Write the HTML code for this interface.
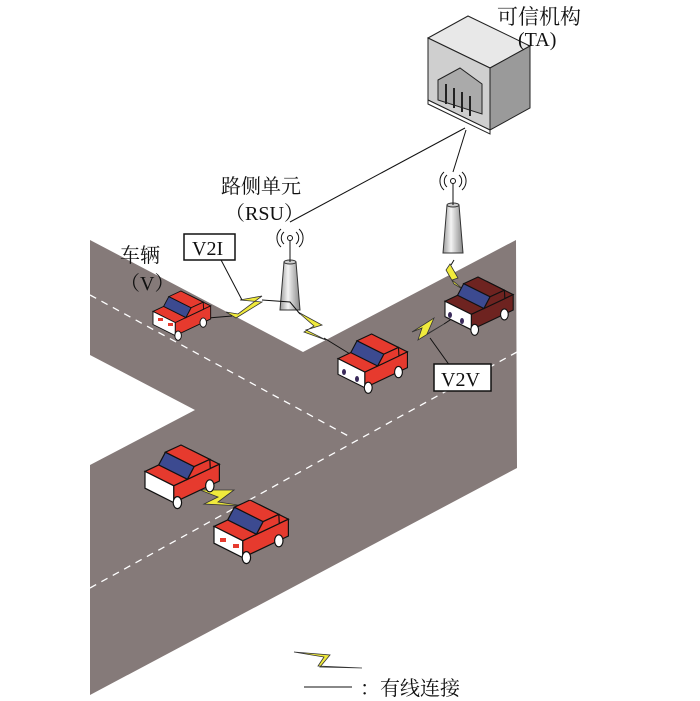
<!DOCTYPE html>
<html><head><meta charset="utf-8"><style>
body{margin:0;background:#fff;}
svg{display:block;}
text{font-family:"Liberation Serif","Noto Serif CJK SC",serif;fill:#111;}
</style></head><body>
<svg width="700" height="701" viewBox="0 0 700 701" xmlns="http://www.w3.org/2000/svg">
<defs>
<linearGradient id="tw" x1="0" x2="1"><stop offset="0" stop-color="#999"/><stop offset="0.4" stop-color="#f4f4f4"/><stop offset="1" stop-color="#888"/></linearGradient>
<g id="car">
 <polygon points="0,22 38,4 62,16 24,34" fill="#e63a2e" stroke="#111"/>
 <polygon points="0,22 24,34 24,48 0,36" fill="#fff" stroke="#111"/>
 <polygon points="24,34 62,16 62,30 24,48" fill="#e63a2e" stroke="#111"/>
 <polygon points="11.4,16.6 35.4,28.6 41,18 17,6" fill="#3c4a90" stroke="#111"/>
 <polygon points="17,6 41,18 54,12 30,0" fill="#e63a2e" stroke="#111"/>
 <polygon points="35.4,28.6 54.4,19.6 54,12 41,18" fill="#e63a2e" stroke="#111"/>
 <ellipse cx="27" cy="48" rx="3.5" ry="5" fill="#fff" stroke="#111"/>
 <ellipse cx="54" cy="34" rx="3.5" ry="5" fill="#fff" stroke="#111"/>
</g>
<g id="tower">
 <polygon points="-6,0 6,0 10,48 -10,48" fill="url(#tw)" stroke="#333"/>
 <ellipse cx="0" cy="0" rx="6" ry="2" fill="#ccc" stroke="#333"/>
 <line x1="0" y1="0" x2="0" y2="-22" stroke="#111"/>
 <circle cx="0" cy="-24" r="2.5" fill="none" stroke="#111"/>
 <path d="M-6,-30 a8,8 0 0 0 0,12 M6,-30 a8,8 0 0 1 0,12 M-9,-33 a12,12 0 0 0 0,18 M9,-33 a12,12 0 0 1 0,18" fill="none" stroke="#111"/>
</g>
</defs>
<polygon points="90,240 303,352 516,240 517,468 90,695 90,465 195,410 90,355" fill="#857a79"/>
<g stroke="#fff" stroke-width="1.3" stroke-dasharray="7,6" fill="none">
<line x1="90" y1="295" x2="352" y2="438"/>
<line x1="90" y1="588" x2="517" y2="352"/>
</g>
<line x1="290" y1="222" x2="465" y2="128" stroke="#111"/>
<line x1="453" y1="172" x2="466" y2="130" stroke="#111"/>
<g stroke="#222">
<polygon points="428,38 468,16 530,46 490,68" fill="#e8e8e8"/>
<polygon points="428,38 490,68 490,130 428,100" fill="#cfcfcf"/>
<polygon points="490,68 530,46 530,108 490,130" fill="#9a9a9a"/>
<polygon points="438,80 460,68 482,84 482,114 438,100" fill="#aaa"/>
<g stroke-width="2"><line x1="446" y1="84" x2="446" y2="104"/><line x1="454" y1="88" x2="454" y2="108"/><line x1="462" y1="92" x2="462" y2="112"/><line x1="470" y1="96" x2="470" y2="116"/></g>
<polygon points="428,100 490,130 490,134 428,104" fill="#fff"/>
</g>
<use href="#tower" x="290" y="262"/>
<use href="#tower" x="453" y="205"/>
<g fill="#f0ea3c" stroke="#333" stroke-width="0.8">
<polygon points="236,318 262,302 240,300 262,296 238,314 226,312"/>
<polygon points="298,312 322,325 306,330 326,340 304,332 314,326"/>
<polygon points="450,264 458,278 452,280 464,290 454,284 446,270"/>
<polygon points="412,332 434,318 427,334 444,324 418,340 422,328"/>
<polygon points="200,490 234,490 218,502 244,506 204,504 218,497"/>
</g>
<g stroke="#111" fill="none">
<polyline points="208,318 232,316"/><polyline points="262,300 290,302 300,314"/>
<polyline points="324,338 350,354"/><polyline points="444,324 462,312"/>
<line x1="454" y1="260" x2="451" y2="265"/><line x1="462" y1="287" x2="463" y2="295"/>
<line x1="190" y1="488" x2="201" y2="490"/><line x1="244" y1="506" x2="252" y2="508"/>
<line x1="220" y1="258" x2="242" y2="300"/><line x1="430" y1="338" x2="450" y2="366"/>
</g>
<use href="#car" transform="translate(153,291) scale(0.93)"/>
<use href="#car" transform="translate(338,334) scale(1.12)"/>
<g transform="translate(445,277) scale(1.1)">
 <polygon points="0,22 38,4 62,16 24,34" fill="#6e2320" stroke="#111"/>
 <polygon points="0,22 24,34 24,48 0,36" fill="#fff" stroke="#111"/>
 <polygon points="24,34 62,16 62,30 24,48" fill="#6e2320" stroke="#111"/>
 <polygon points="11.4,16.6 35.4,28.6 41,18 17,6" fill="#3c4a90" stroke="#111"/>
 <polygon points="17,6 41,18 54,12 30,0" fill="#6e2320" stroke="#111"/>
 <polygon points="35.4,28.6 54.4,19.6 54,12 41,18" fill="#6e2320" stroke="#111"/>
 <ellipse cx="27" cy="48" rx="3.5" ry="5" fill="#fff" stroke="#111"/>
 <ellipse cx="54" cy="34" rx="3.5" ry="5" fill="#fff" stroke="#111"/>
</g>
<use href="#car" transform="translate(145,445) scale(1.2)"/>
<use href="#car" transform="translate(214,500) scale(1.2)"/>
<g fill="#e63a2e"><rect x="158" y="318" width="5" height="3"/><rect x="168" y="323" width="5" height="3"/><rect x="220" y="538" width="6" height="4"/><rect x="233" y="544" width="6" height="4"/></g>
<g fill="#3a2a5a"><ellipse cx="344" cy="372" rx="2" ry="3"/><ellipse cx="357" cy="379" rx="2" ry="3"/><ellipse cx="450" cy="315" rx="2" ry="3"/><ellipse cx="462" cy="321" rx="2" ry="3"/></g>
<rect x="184" y="234" width="51" height="26" fill="#fff" stroke="#111" stroke-width="1.5"/>
<text x="192" y="255" font-size="20">V2I</text>
<rect x="434" y="364" width="57" height="27" fill="#fff" stroke="#111" stroke-width="1.5"/>
<text x="441" y="386" font-size="20">V2V</text>
<text x="120" y="262" font-size="20">车辆</text>
<text x="120" y="290" font-size="20">（V）</text>
<text x="221" y="193" font-size="20">路侧单元</text>
<text x="225" y="220" font-size="20">（RSU）</text>
<text x="497" y="24" font-size="21">可信机构</text>
<text x="518" y="46" font-size="20">(TA)</text>
<polygon points="294,652 330,655 320,667 362,668 318,666 324,657" fill="#f0ea3c" stroke="#333" stroke-width="0.8"/>
<line x1="304" y1="687" x2="352" y2="687" stroke="#111"/>
<text x="360" y="695" font-size="20">：有线连接</text>
</svg>
</body></html>
